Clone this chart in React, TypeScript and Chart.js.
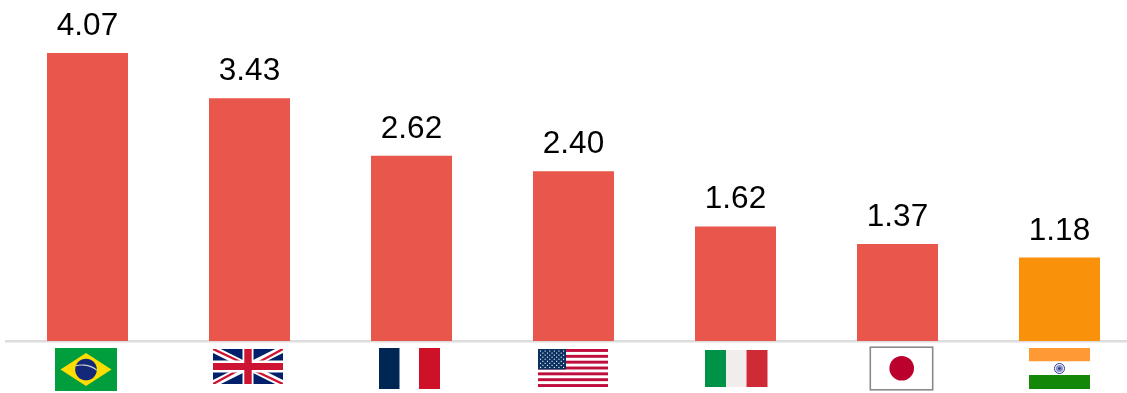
import React, { useEffect, useRef } from "react";
import { Chart, registerables, Plugin } from "chart.js";

Chart.register(...registerables);

const countries = ["BR", "GB", "FR", "US", "IT", "JP", "IN"];
const values = [4.07, 3.43, 2.62, 2.4, 1.62, 1.37, 1.18];
const valueLabels = ["4.07", "3.43", "2.62", "2.40", "1.62", "1.37", "1.18"];
const barColors = ["#E9564B", "#E9564B", "#E9564B", "#E9564B", "#E9564B", "#E9564B", "#F9920A"];

type Ctx = CanvasRenderingContext2D;
const rect = (c: Ctx, color: string, x: number, y: number, w: number, h: number) => {
  c.fillStyle = color;
  c.fillRect(x, y, w, h);
};

// Each flag is painted around the horizontal centre of its category.
const flagPainters: Record<string, (c: Ctx, cx: number) => void> = {
  BR(c, cx) {
    const mid = cx - 1.5;
    rect(c, "#009E3D", mid - 31, 348, 62, 43);
    c.fillStyle = "#FEDD00";
    c.beginPath();
    c.moveTo(mid, 353);
    c.lineTo(mid + 25.5, 369.5);
    c.lineTo(mid, 386);
    c.lineTo(mid - 25.5, 369.5);
    c.closePath();
    c.fill();
    c.fillStyle = "#14287A";
    c.beginPath();
    c.arc(mid, 369.5, 10.8, 0, Math.PI * 2);
    c.fill();
    c.save();
    c.beginPath();
    c.arc(mid, 369.5, 10.8, 0, Math.PI * 2);
    c.clip();
    c.strokeStyle = "#C9D6C8";
    c.lineWidth = 1.2;
    c.beginPath();
    c.arc(mid - 4, 389, 24, -Math.PI * 0.72, -Math.PI * 0.2);
    c.stroke();
    c.restore();
  },
  GB(c, cx) {
    const mid = cx - 1.5;
    const x = mid - 35;
    const y = 349;
    const w = 70;
    const h = 35;
    c.save();
    c.beginPath();
    c.rect(x, y, w, h);
    c.clip();
    rect(c, "#00206B", x, y, w, h);
    c.lineCap = "butt";
    c.strokeStyle = "#FFFFFF";
    c.lineWidth = 7;
    c.beginPath();
    c.moveTo(x, y);
    c.lineTo(x + w, y + h);
    c.moveTo(x + w, y);
    c.lineTo(x, y + h);
    c.stroke();
    c.strokeStyle = "#CE1433";
    c.lineWidth = 2.4;
    c.beginPath();
    c.moveTo(x, y);
    c.lineTo(mid, y + h / 2 - 1);
    c.moveTo(x + w, y + h);
    c.lineTo(mid, y + h / 2 + 1);
    c.moveTo(x + w, y);
    c.lineTo(mid + 1, y + h / 2 + 1);
    c.moveTo(x, y + h);
    c.lineTo(mid - 1, y + h / 2 - 1);
    c.stroke();
    rect(c, "#FFFFFF", mid - 5.5, y, 11, h);
    rect(c, "#FFFFFF", x, y + 11.5, w, 12);
    rect(c, "#CE1433", mid - 3.7, y, 7.4, h);
    rect(c, "#CE1433", x, y + 14, w, 7);
    c.restore();
  },
  FR(c, cx) {
    rect(c, "#002654", cx - 32.5, 348, 20.5, 41);
    rect(c, "#CE1126", cx + 7.5, 348, 21, 41);
  },
  US(c, cx) {
    const x = cx - 35.5;
    const y = 349;
    const w = 70;
    const h = 38;
    const sh = h / 13;
    rect(c, "#FFFFFF", x, y, w, h);
    for (let i = 0; i < 13; i += 2) rect(c, "#BF0D3E", x, y + i * sh, w, sh);
    rect(c, "#0A3161", x, y, 28, sh * 7);
    c.fillStyle = "#FFFFFF";
    for (let r = 0; r < 9; r++) {
      const n = r % 2 === 0 ? 6 : 5;
      const off = r % 2 === 0 ? 2.5 : 4.8;
      for (let k = 0; k < n; k++) {
        c.fillRect(x + off + k * 4.6 - 0.5, y + 2 + r * 2.05 - 0.5, 1.1, 1.1);
      }
    }
  },
  IT(c, cx) {
    rect(c, "#009246", cx - 30.5, 350, 21, 37);
    rect(c, "#F1EDEC", cx - 9.5, 350, 20.5, 37);
    rect(c, "#CF2B36", cx + 11, 350, 21, 37);
  },
  JP(c, cx) {
    rect(c, "#FFFFFF", cx - 28, 347, 64, 43);
    c.strokeStyle = "#8A8A8A";
    c.lineWidth = 1.6;
    c.strokeRect(cx - 27.2, 347.2, 62.4, 42.6);
    c.fillStyle = "#BC002D";
    c.beginPath();
    c.arc(cx + 4.2, 368.3, 12.3, 0, Math.PI * 2);
    c.fill();
  },
  IN(c, cx) {
    const x = cx - 30.5;
    rect(c, "#FF9933", x, 348, 61, 13.5);
    rect(c, "#FFFFFF", x, 361.5, 61, 13.5);
    rect(c, "#138808", x, 375, 61, 14);
    c.strokeStyle = "#2A3A9A";
    c.lineWidth = 1;
    c.beginPath();
    c.arc(cx, 368.5, 5, 0, Math.PI * 2);
    c.stroke();
    c.fillStyle = "#8C93C8";
    c.beginPath();
    c.arc(cx, 368.5, 3.6, 0, Math.PI * 2);
    c.fill();
    c.fillStyle = "#1C2A8A";
    c.beginPath();
    c.arc(cx, 368.5, 1.2, 0, Math.PI * 2);
    c.fill();
  },
};

// Value captions above the bars and the flag row under the axis.
const annotations: Plugin<"bar"> = {
  id: "annotations",
  afterDatasetsDraw(chart) {
    const c = chart.ctx;
    const bars = chart.getDatasetMeta(0).data;
    c.save();
    c.fillStyle = "#000000";
    c.font = '31.5px "Liberation Sans", Arial, sans-serif';
    c.textAlign = "center";
    c.textBaseline = "alphabetic";
    bars.forEach((bar, i) => {
      c.fillText(valueLabels[i], bar.x, bar.y - 18);
    });
    countries.forEach((code, i) => {
      flagPainters[code](c, chart.scales.x.getPixelForValue(i));
    });
    c.restore();
  },
};

export default function App() {
  const ref = useRef<HTMLCanvasElement>(null);

  useEffect(() => {
    if (!ref.current) return;
    const chart = new Chart(ref.current, {
      type: "bar",
      data: {
        labels: countries,
        datasets: [
          {
            data: values,
            backgroundColor: barColors,
            borderWidth: 0,
            categoryPercentage: 1,
            barPercentage: 0.5,
          },
        ],
      },
      options: {
        responsive: false,
        animation: false,
        layout: { padding: { left: 6.5, right: 0.5, top: 0, bottom: 52 } },
        plugins: { legend: { display: false }, tooltip: { enabled: false } },
        scales: {
          x: {
            grid: { display: false, drawTicks: false },
            border: { display: true, color: "#DDDDDD", width: 2.5 },
            ticks: { display: false },
          },
          y: { display: false, min: 0, max: 4.82 },
        },
      },
      plugins: [annotations],
    });
    return () => chart.destroy();
  }, []);

  return (
    <div
      style={{
        position: "absolute",
        left: 0,
        top: 0,
        width: 1127,
        height: 393,
        overflow: "hidden",
        background: "#FFFFFF",
      }}
    >
      <canvas ref={ref} width={1141} height={393} style={{ display: "block" }} />
    </div>
  );
}
